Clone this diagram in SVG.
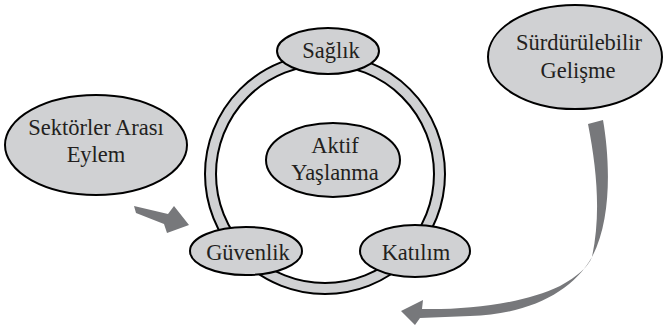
<svg xmlns="http://www.w3.org/2000/svg" width="664" height="330" viewBox="0 0 664 330">
<defs>
<style>
.n{fill:#d0d1d3;stroke:#000;stroke-width:2}
.t{font-family:'Liberation Serif','Times New Roman',serif;font-size:22.5px;fill:#231f20;text-anchor:middle}
.a{fill:#77787b;stroke:none}
</style>
</defs>
<rect width="664" height="330" fill="#fff"/>
<g id="connectors">
<path class="a" d="M134,206 L168,214 L174,206 L189,225 L167,233 L164,224 L136,213 Z"/>
<path class="a" d="M588,124 L603,120 C610,160 612,220 592,257 C572,292 530,314 470,316 L420,318 L415,325 L401,311 L423,300 L422,309 C470,310 525,303 560,286 C578,276 588,267 592,257 C601,215 597,170 588,124 Z"/>
</g>
<g id="ring">
<circle cx="325" cy="174" r="120" class="n"/>
<circle cx="325" cy="174" r="109" fill="#fff" stroke="#000" stroke-width="2"/>
</g>
<g id="saglik">
<ellipse cx="328" cy="51" rx="51" ry="23" class="n"/>
<text class="t" x="331" y="58">Sağlık</text>
</g>
<g id="aktif">
<ellipse cx="333" cy="160" rx="67" ry="37" class="n"/>
<text class="t" x="335" y="153">Aktif</text>
<text class="t" x="335" y="180">Yaşlanma</text>
</g>
<g id="guvenlik">
<ellipse cx="246" cy="251" rx="56" ry="24" class="n"/>
<text class="t" x="248" y="260">Güvenlik</text>
</g>
<g id="katilim">
<ellipse cx="415" cy="251" rx="55" ry="26" class="n"/>
<text class="t" x="416" y="260">Katılım</text>
</g>
<g id="sektorler">
<ellipse cx="96" cy="145" rx="91" ry="50" class="n"/>
<text class="t" x="96" y="135">Sektörler Arası</text>
<text class="t" x="96" y="162">Eylem</text>
</g>
<g id="surdurulebilir">
<ellipse cx="575" cy="57" rx="87" ry="52" class="n"/>
<text class="t" x="579" y="50">Sürdürülebilir</text>
<text class="t" x="578" y="78">Gelişme</text>
</g>
</svg>
